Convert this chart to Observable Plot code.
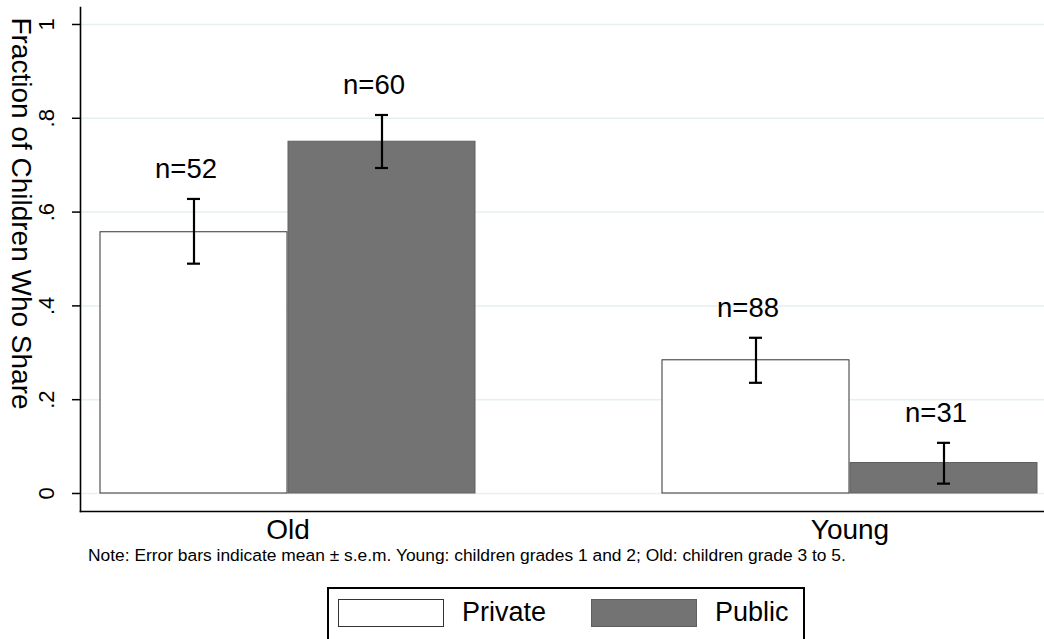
<!DOCTYPE html>
<html>
<head>
<meta charset="utf-8">
<script src="https://cdn.jsdelivr.net/npm/d3@7"></script>
<script src="https://cdn.jsdelivr.net/npm/@observablehq/plot@0.6"></script>
<style>
  html, body { margin: 0; padding: 0; background: #ffffff; }
  body { font-family: Helvetica, Arial, "Liberation Sans", sans-serif; color: #000; }
  #wrap { position: relative; width: 1044px; height: 639px; overflow: hidden; background: #fff; }
  #chart { position: absolute; left: 0; top: 0; }
  #note { position: absolute; left: 88px; top: 547px; font-size: 17.4px; line-height: 17px; white-space: nowrap; }
  #legend { position: absolute; left: 327px; top: 587px; width: 474px; height: 70px; border: 2px solid #000; background: #fff; }
  .sw { position: absolute; top: 10px; width: 104px; height: 26px; border: 1px solid #444; }
  .lt { position: absolute; top: 8px; font-size: 27px; line-height: 31px; white-space: nowrap; }
</style>
</head>
<body>
<div id="wrap">
  <div id="chart"></div>
  <div id="note"></div>
  <div id="legend"></div>
</div>
<script>
// ---- data ----
const categories = ["Old", "Young"];
const seriesNames = ["Private", "Public"];
const seriesColors = ["#ffffff", "#737373"];
const seriesStrokes = ["#333333", "#606060"];
const barGroups = ["Old", "Old", "Young", "Young"];
const barTypes = ["Private", "Public", "Private", "Public"];
const means = [0.557, 0.750, 0.284, 0.065];
const lows = [0.490, 0.694, 0.236, 0.021];
const highs = [0.628, 0.807, 0.332, 0.108];
const nLabels = ["n=52", "n=60", "n=88", "n=31"];
const yTicks = [0, 0.2, 0.4, 0.6, 0.8, 1];
const yTickLabels = ["0", ".2", ".4", ".6", ".8", "1"];
const yTitle = "Fraction of Children Who Share";
const noteText = "Note: Error bars indicate mean \u00B1 s.e.m. Young: children grades 1 and 2; Old: children grade 3 to 5.";

const data = barGroups.map((g, i) => ({
  group: g, type: barTypes[i], mean: means[i], lo: lows[i], hi: highs[i], n: nLabels[i]
}));

// layout constants (pixels): each category band holds two side-by-side bars
const half = 188;      // half of a category band = one bar width
const quarter = 94;    // centre of a bar relative to band centre
const capInset = 87;   // cap half-gap inside a bar

function seriesMarks(si) {
  const name = seriesNames[si];
  const rows = data.filter(d => d.type === name);
  const left = si === 0;
  const off = left ? -quarter : quarter;
  return [
    Plot.barY(rows, { x: "group", y: "mean", fill: seriesColors[si], stroke: seriesStrokes[si], strokeWidth: 1,
      insetLeft: left ? 0 : half, insetRight: left ? half : 0 }),
    Plot.ruleX(rows, { x: "group", y1: "lo", y2: "hi", dx: off, stroke: "#000", strokeWidth: 2.2 }),
    Plot.tickY(rows, { x: "group", y: "lo", stroke: "#000", strokeWidth: 2.2,
      insetLeft: left ? capInset : half + capInset, insetRight: left ? half + capInset : capInset }),
    Plot.tickY(rows, { x: "group", y: "hi", stroke: "#000", strokeWidth: 2.2,
      insetLeft: left ? capInset : half + capInset, insetRight: left ? half + capInset : capInset }),
    Plot.text(rows, { x: "group", y: "hi", text: "n", dx: off - 8, dy: -30, fontSize: 27.5, fill: "#000" })
  ];
}

const chart = Plot.plot({
  width: 1044,
  height: 548,
  marginLeft: 80,
  marginRight: 0,
  marginTop: 7,
  marginBottom: 37,
  style: { fontFamily: 'Helvetica, Arial, "Liberation Sans", sans-serif', background: "#fff", color: "#000", overflow: "visible" },
  x: { domain: categories, paddingInner: 0.3321, paddingOuter: 0.0222, align: 0.76, label: null },
  y: { domain: [-0.0384, 1.0362], label: null },
  marks: [
    Plot.gridY(yTicks, { stroke: "#e6eff1", strokeOpacity: 1, strokeWidth: 1.5 }),
    ...seriesMarks(0),
    ...seriesMarks(1),
    Plot.axisX({ anchor: "bottom", tickSize: 0, tickPadding: 8, fontSize: 28, label: null }),
    Plot.axisY(yTicks, { tickSize: 8, tickFormat: () => "", label: null, strokeWidth: 1.5 }),
    Plot.text(yTicks, { y: d => d, text: (d, i) => yTickLabels[i], frameAnchor: "left", textAnchor: "middle", dx: -34, rotate: -90, lineAnchor: "middle", fontSize: 22, fill: "#000" }),
    Plot.text([yTitle], { frameAnchor: "left", textAnchor: "middle", dx: -60, dy: -46, rotate: 90, lineAnchor: "middle", fontSize: 28, fill: "#000" }),
    Plot.frame({ anchor: "left", strokeWidth: 1.6 }),
    Plot.frame({ anchor: "bottom", strokeWidth: 1.6 })
  ]
});
document.getElementById("chart").appendChild(chart);
document.getElementById("note").textContent = noteText;

// legend
const legend = document.getElementById("legend");
const swLeft = [9, 262];
const txLeft = [133, 386];
seriesNames.forEach((name, i) => {
  const sw = document.createElement("div");
  sw.className = "sw";
  sw.style.left = swLeft[i] + "px";
  sw.style.background = seriesColors[i];
  sw.style.borderColor = seriesStrokes[i];
  legend.appendChild(sw);
  const t = document.createElement("div");
  t.className = "lt";
  t.style.left = txLeft[i] + "px";
  t.textContent = name;
  legend.appendChild(t);
});
</script>
</body>
</html>
